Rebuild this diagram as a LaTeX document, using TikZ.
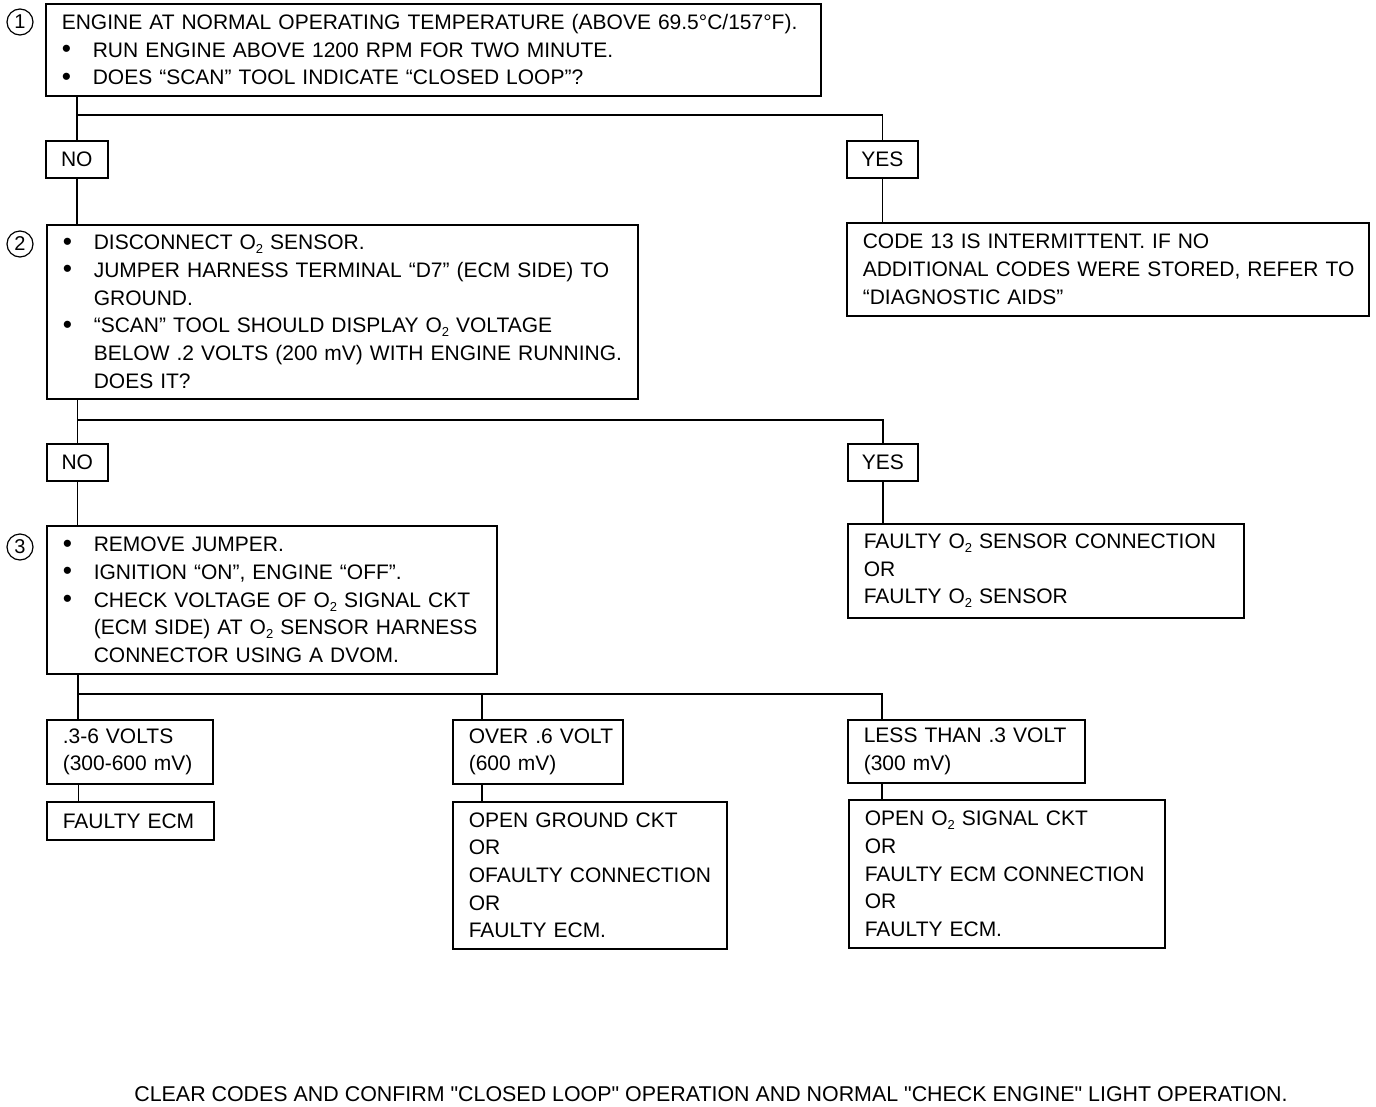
\documentclass[tikz,border=0pt]{standalone}
\usepackage{fontspec}
\setmainfont{Liberation Sans}
\usetikzlibrary{positioning}

% one printed line each: bullet line, indented line, plain line
\newcommand{\bline}[1]{\mbox{\makebox[31pt][l]{\raisebox{-0.5pt}{\scalebox{1.25}{\textbullet}}}#1}}
\newcommand{\iline}[1]{\mbox{\hspace*{31pt}#1}}
\newcommand{\pline}[1]{\mbox{#1}}
\newcommand{\Otwo}{O\raisebox{-4pt}{\fontsize{13pt}{13pt}\selectfont 2}}

\begin{document}
\begin{tikzpicture}[x=1pt, y=-1pt, line width=1.6pt,
  every node/.style={font=\fontsize{21pt}{27.7pt}\selectfont},
  stepbox/.style={draw, anchor=north west, align=left, inner xsep=16pt, inner ysep=3pt},
  answer/.style={draw, anchor=north west, inner sep=0pt, minimum height=37pt},
  stepnum/.style={draw, circle, minimum size=26pt, inner sep=0pt, line width=1.2pt,
    font=\fontsize{20pt}{22pt}\selectfont},
  link/.style={line width=1.5pt}]

  \useasboundingbox (0,0) rectangle (1376,1106);

  % Step 1
  \node[stepnum] (n1) at (20,22) {1};
  \node[stepbox, text width=743pt, minimum height=92pt] (box1) at (45,3)
    {\pline{ENGINE AT NORMAL OPERATING TEMPERATURE (ABOVE 69.5°C/157°F).}\\
     \bline{RUN ENGINE ABOVE 1200 RPM FOR TWO MINUTE.}\\
     \bline{DOES “SCAN” TOOL INDICATE “CLOSED LOOP”?}};

  \node[answer, minimum width=62pt] (no1) at (45,140) {NO};
  \node[answer, minimum width=71pt] (yes1) at (846,140) {YES};

  \coordinate (j1) at (0,115);
  \draw[link] (box1.south -| no1) -- (no1.north);
  \draw[link] (no1 |- j1) -- (yes1 |- j1) -- (yes1.north);

  % Step 2
  \node[stepnum] (n2) at (20,244) {2};
  \node[stepbox, text width=559pt, minimum height=174pt] (box2) at (46,224)
    {\bline{DISCONNECT \Otwo{} SENSOR.}\\
     \bline{JUMPER HARNESS TERMINAL “D7” (ECM SIDE) TO}\\
     \iline{GROUND.}\\
     \bline{“SCAN” TOOL SHOULD DISPLAY \Otwo{} VOLTAGE}\\
     \iline{BELOW .2 VOLTS (200 mV) WITH ENGINE RUNNING.}\\
     \iline{DOES IT?}};
  \node[stepbox, text width=490pt, minimum height=93pt] (code13) at (846,222)
    {\pline{CODE 13 IS INTERMITTENT. IF NO}\\
     \pline{ADDITIONAL CODES WERE STORED, REFER TO}\\
     \pline{“DIAGNOSTIC AIDS”}};

  \draw[link] (no1.south) -- (no1.south |- box2.north);
  \draw[link] (yes1.south) -- (code13.north -| yes1);

  \node[answer, minimum width=61pt] (no2) at (46,443) {NO};
  \node[answer, minimum width=70pt] (yes2) at (847,443) {YES};

  \coordinate (j2) at (0,420);
  \draw[link] (box2.south -| no2) -- (no2.north);
  \draw[link] (no2 |- j2) -- (yes2 |- j2) -- (yes2.north);

  % Step 3
  \node[stepnum] (n3) at (20,547) {3};
  \node[stepbox, text width=418pt, minimum height=148pt] (box3) at (46,525)
    {\bline{REMOVE JUMPER.}\\
     \bline{IGNITION “ON”, ENGINE “OFF”.}\\
     \bline{CHECK VOLTAGE OF \Otwo{} SIGNAL CKT}\\
     \iline{(ECM SIDE) AT \Otwo{} SENSOR HARNESS}\\
     \iline{CONNECTOR USING A DVOM.}};
  \node[stepbox, text width=364pt, minimum height=94pt] (o2fault) at (847,523)
    {\pline{FAULTY \Otwo{} SENSOR CONNECTION}\\
     \pline{OR}\\
     \pline{FAULTY \Otwo{} SENSOR}};

  \draw[link] (no2.south) -- (no2.south |- box3.north);
  \draw[link] (yes2.south) -- (o2fault.north -| yes2);

  % Voltage readings
  \node[stepbox, text width=134pt, minimum height=64pt] (volt1) at (46,719)
    {\pline{.3-6 VOLTS}\\\pline{(300-600 mV)}};
  \node[stepbox, text width=138pt, minimum height=64pt] (volt2) at (452,719)
    {\pline{OVER .6 VOLT}\\\pline{(600 mV)}};
  \node[stepbox, text width=205pt, minimum height=63pt] (volt3) at (847,719)
    {\pline{LESS THAN .3 VOLT}\\\pline{(300 mV)}};

  \node[stepbox, text width=135pt, minimum height=38pt] (ecm) at (46,801)
    {\pline{FAULTY ECM}};
  \node[stepbox, text width=242pt, minimum height=147pt] (ground) at (452,801)
    {\pline{OPEN GROUND CKT}\\\pline{OR}\\\pline{OFAULTY CONNECTION}\\\pline{OR}\\\pline{FAULTY ECM.}};
  \node[stepbox, text width=284pt, minimum height=148pt] (signal) at (848,799)
    {\pline{OPEN \Otwo{} SIGNAL CKT}\\\pline{OR}\\\pline{FAULTY ECM CONNECTION}\\\pline{OR}\\\pline{FAULTY ECM.}};

  \coordinate (j3) at (0,694);
  \draw[link] ([xshift=32pt]box3.south west) -- ([xshift=32pt]volt1.north west);
  \draw[link] ([xshift=32pt]volt1.north west |- j3) -- ([xshift=35pt]volt3.north west |- j3)
    -- ([xshift=35pt]volt3.north west);
  \draw[link] ([xshift=30pt]volt2.north west |- j3) -- ([xshift=30pt]volt2.north west);
  \draw[line width=1pt] ([xshift=32pt]volt1.south west) -- ([xshift=32pt]ecm.north west);
  \draw[link] ([xshift=30pt]volt2.south west) -- ([xshift=30pt]ground.north west);
  \draw[link] ([xshift=35pt]volt3.south west) -- ([xshift=34pt]signal.north west);

  % Closing note
  \node[font=\fontsize{21.4pt}{25pt}\selectfont] (note) at (711,1094)
    {CLEAR CODES AND CONFIRM \textquotedbl CLOSED LOOP\textquotedbl{} OPERATION AND NORMAL \textquotedbl CHECK ENGINE\textquotedbl{} LIGHT OPERATION.};
\end{tikzpicture}
\end{document}
